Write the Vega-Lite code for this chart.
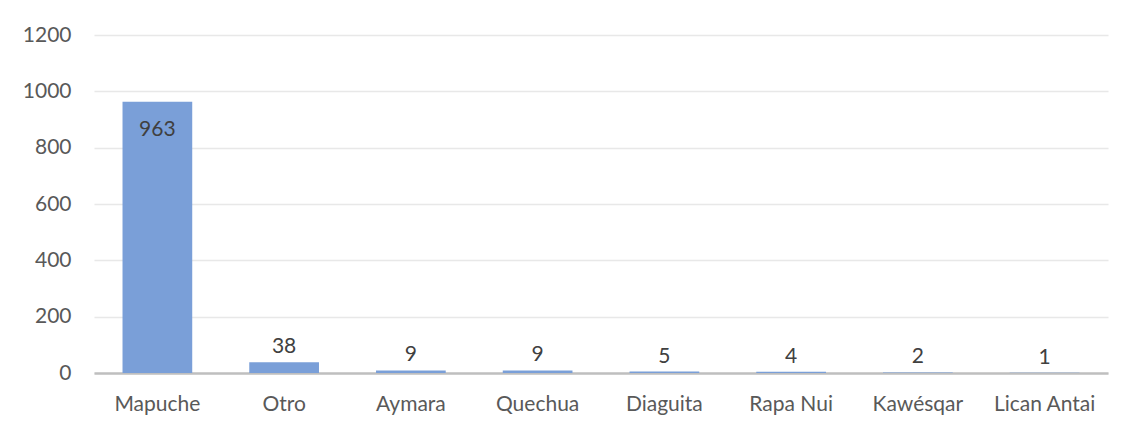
{
  "$schema": "https://vega.github.io/schema/vega-lite/v6.json",
  "width": 1014,
  "height": 338,
  "autosize": {"type": "none"},
  "padding": {"left": 94, "top": 35, "right": 21, "bottom": 55},
  "background": "white",
  "config": {
    "view": {"stroke": null},
    "font": "Lato",
    "axis": {"labelFont": "Lato", "labelFontSize": 21, "labelColor": "#595959"}
  },
  "data": {"values": [
    {"pueblo": "Mapuche", "n": 963},
    {"pueblo": "Otro", "n": 38},
    {"pueblo": "Aymara", "n": 9},
    {"pueblo": "Quechua", "n": 9},
    {"pueblo": "Diaguita", "n": 5},
    {"pueblo": "Rapa Nui", "n": 4},
    {"pueblo": "Kawésqar", "n": 2},
    {"pueblo": "Lican Antai", "n": 1}
  ]},
  "encoding": {
    "x": {"field": "pueblo", "type": "nominal", "sort": null,
      "scale": {"paddingInner": 0.45, "paddingOuter": 0.225},
      "axis": {"title": null, "labelAngle": 0, "ticks": false, "labelPadding": 20, "domainColor": "#bfbfbf", "domainWidth": 2.5}},
    "y": {"field": "n", "type": "quantitative",
      "scale": {"domain": [0, 1200]},
      "axis": {"title": null, "format": "d", "values": [0, 200, 400, 600, 800, 1000, 1200], "ticks": false, "domain": false, "labelPadding": 23, "gridColor": "#e8e8e8", "gridWidth": 1.5}}
  },
  "layer": [
    {"mark": {"type": "bar", "color": "#7a9fd8"}},
    {"transform": [{"filter": "datum.n < 500"}],
     "mark": {"type": "text", "baseline": "bottom", "dy": -5, "fontSize": 21, "color": "#404040", "font": "Lato"},
     "encoding": {"text": {"field": "n", "type": "quantitative"}}},
    {"transform": [{"filter": "datum.n >= 500"}],
     "mark": {"type": "text", "baseline": "top", "dy": 17, "fontSize": 21, "color": "#404040", "font": "Lato"},
     "encoding": {"text": {"field": "n", "type": "quantitative"}}}
  ]
}
